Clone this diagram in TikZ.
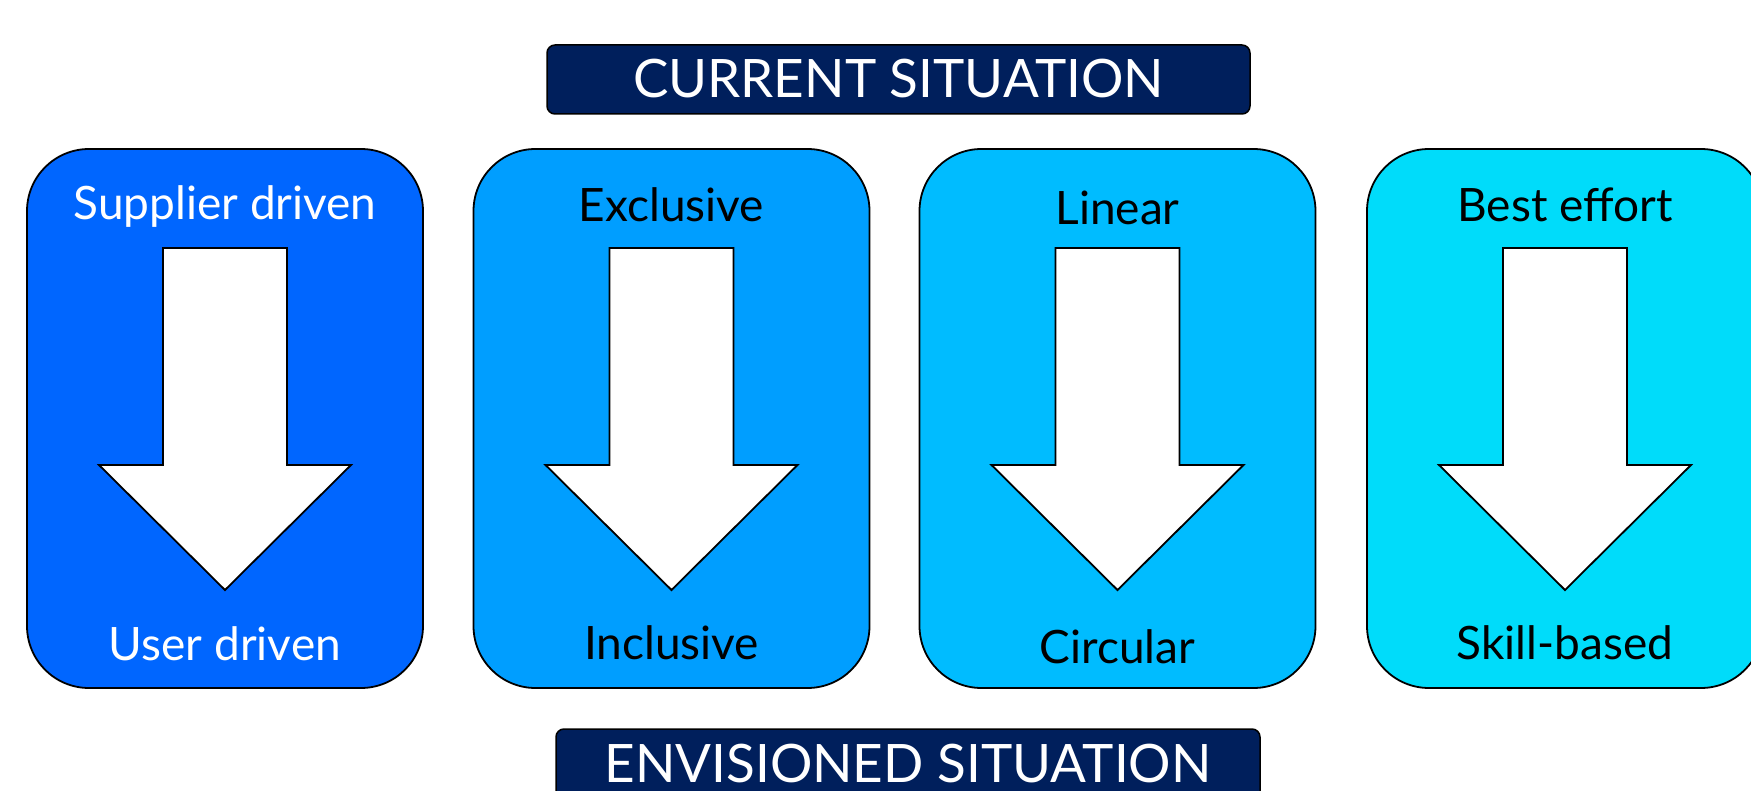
\documentclass[tikz,border=0pt]{standalone}
\usepackage{fontspec}
\setmainfont{Lato}
\definecolor{navy}{RGB}{0,31,92}
\definecolor{cA}{RGB}{0,102,255}
\definecolor{cB}{RGB}{0,158,255}
\definecolor{cC}{RGB}{0,188,255}
\definecolor{cD}{RGB}{0,220,250}
\tikzset{
  banner/.style={draw=black, line width=1.5pt, fill=navy, rounded corners=8pt},
  bannertext/.style={text=white, font=\fontsize{53}{64}\selectfont},
  card/.style={draw=black, line width=1.8pt, rounded corners=62pt},
  cardtext/.style={font=\fontsize{46}{55}\selectfont},
  bigarrow/.style={draw=black, line width=1.8pt, fill=white, line join=miter}
}
\begin{document}
\begin{tikzpicture}[x=1pt,y=-1pt]
\useasboundingbox (0,0) rectangle (1751,791);
\clip (0,0) rectangle (1751,791);
% banners
\draw[banner] (547,45) rectangle (1250,114);
\node[bannertext] (cur) at (898.5,79) {CURRENT SITUATION};
\draw[banner] (556,729) rectangle (1260,830);
\node[bannertext] (env) at (908,764) {ENVISIONED SITUATION};
% cards
\foreach \cx/\col/\tc/\top/\bot/\ty/\by [count=\i] in {
  225/cA/white/Supplier driven/User driven/207/644,
  671.5/cB/black/Exclusive/Inclusive/205/643,
  1117.5/cC/black/Linear/Circular/208/647,
  1565/cD/black/Best effort/Skill-based/205/643}{
  \draw[card, fill=\col] (\cx-198,149) rectangle (\cx+198,688);
  \draw[bigarrow] (\cx-62,248) -- (\cx+62,248) -- (\cx+62,465) -- (\cx+126,465)
     -- (\cx,590) -- (\cx-126,465) -- (\cx-62,465) -- cycle;
  \node[cardtext, text=\tc] (t\i) at (\cx,\ty) {\top};
  \node[cardtext, text=\tc] (b\i) at (\cx,\by) {\bot};
}
\end{tikzpicture}
\end{document}
